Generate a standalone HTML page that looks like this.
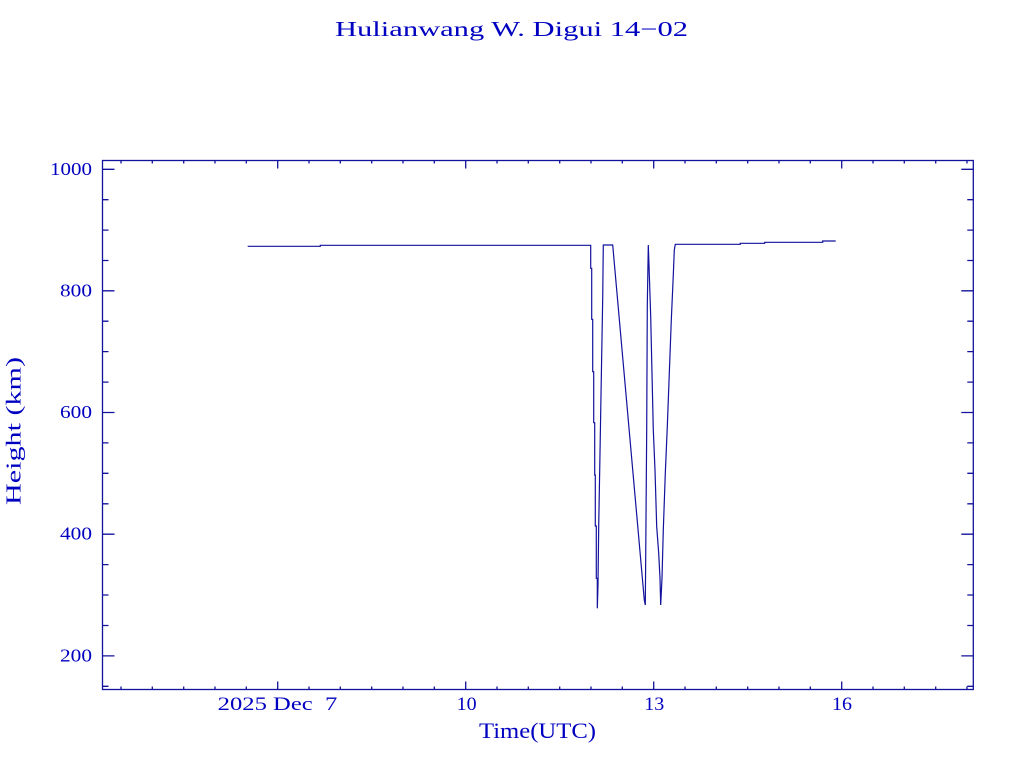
<!DOCTYPE html>
<html><head><meta charset="utf-8"><style>
html,body{margin:0;padding:0;background:#fff;}
svg{display:block;}
text{font-family:"Liberation Serif",serif;fill:#0000c0;}
</style></head><body>
<svg width="1024" height="768" viewBox="0 0 1024 768" xmlns="http://www.w3.org/2000/svg">
<rect x="0" y="0" width="1024" height="768" fill="#fff"/>
<text x="335" y="36" font-size="21" textLength="353" lengthAdjust="spacingAndGlyphs">Hulianwang W. Digui 14−02</text>
<g stroke="#12129c" stroke-width="1.3" fill="none">
<rect x="102.5" y="160.5" width="870.8" height="529"/>
<path d="M102.5 169.3h12M973.3 169.3h-12 M102.5 290.8h12M973.3 290.8h-12 M102.5 412.5h12M973.3 412.5h-12 M102.5 534.2h12M973.3 534.2h-12 M102.5 655.9h12M973.3 655.9h-12"/>
<path d="M102.5 199.7h6M973.3 199.7h-6 M102.5 230.1h6M973.3 230.1h-6 M102.5 260.5h6M973.3 260.5h-6 M102.5 321.2h6M973.3 321.2h-6 M102.5 351.6h6M973.3 351.6h-6 M102.5 382.1h6M973.3 382.1h-6 M102.5 442.9h6M973.3 442.9h-6 M102.5 473.3h6M973.3 473.3h-6 M102.5 503.8h6M973.3 503.8h-6 M102.5 564.6h6M973.3 564.6h-6 M102.5 595h6M973.3 595h-6 M102.5 625.5h6M973.3 625.5h-6 M102.5 686.3h6M973.3 686.3h-6"/>
<path d="M277.7 689.5v-8M277.7 160.5v8 M465.7 689.5v-8M465.7 160.5v8 M653.7 689.5v-8M653.7 160.5v8 M841.7 689.5v-8M841.7 160.5v8"/>
<path d="M121 689.5v-3M121 160.5v3 M152.3 689.5v-3M152.3 160.5v3 M183.7 689.5v-3M183.7 160.5v3 M215 689.5v-3M215 160.5v3 M246.3 689.5v-3M246.3 160.5v3 M309 689.5v-3M309 160.5v3 M340.3 689.5v-3M340.3 160.5v3 M371.7 689.5v-3M371.7 160.5v3 M403 689.5v-3M403 160.5v3 M434.3 689.5v-3M434.3 160.5v3 M497 689.5v-3M497 160.5v3 M528.3 689.5v-3M528.3 160.5v3 M559.7 689.5v-3M559.7 160.5v3 M591 689.5v-3M591 160.5v3 M622.3 689.5v-3M622.3 160.5v3 M685 689.5v-3M685 160.5v3 M716.3 689.5v-3M716.3 160.5v3 M747.7 689.5v-3M747.7 160.5v3 M779 689.5v-3M779 160.5v3 M810.3 689.5v-3M810.3 160.5v3 M873 689.5v-3M873 160.5v3 M904.3 689.5v-3M904.3 160.5v3 M935.7 689.5v-3M935.7 160.5v3 M967 689.5v-3M967 160.5v3"/>
<polyline stroke-width="1.2" points="247.7,246.3 320.3,246.3 320.3,245.3 590.7,245.3 590.7,268.3 591.7,268.3 591.7,319.3 592.7,319.3 592.7,371.7 593.7,371.7 593.7,422.7 594.7,422.7 594.7,475 595.3,475 595.3,526 596.3,526 596.3,578.3 597.3,578.3 597.3,608.3 598,585 598.7,526.7 599.7,470 600.7,412.7 601.7,355 602.7,298.3 603.3,245 612.7,245 644.3,600 645.3,605 645.7,556.7 646.7,430 647.3,305 648.3,245 649,265 650.7,316.7 652,373.3 653.3,430 655,470 656.7,526.7 658.7,553.3 660,578.3 660.7,605 662,578.3 663.3,530 665.3,473.3 667.3,426.7 669.3,373.3 671.3,320 673.3,275 674.3,250 675.3,244.3 740.3,244.3 740.3,243.3 764.7,243.3 764.7,242.3 822.7,242.3 822.7,241 835.7,241"/>
</g>
<g font-size="18" text-anchor="end">
<text x="92" y="174.8" textLength="42" lengthAdjust="spacingAndGlyphs">1000</text>
<text x="92" y="296.3" textLength="32" lengthAdjust="spacingAndGlyphs">800</text>
<text x="92" y="418" textLength="32" lengthAdjust="spacingAndGlyphs">600</text>
<text x="92" y="539.7" textLength="32" lengthAdjust="spacingAndGlyphs">400</text>
<text x="92" y="661.4" textLength="32" lengthAdjust="spacingAndGlyphs">200</text>
</g>
<g font-size="19">
<text x="217.7" y="710" textLength="119.6" lengthAdjust="spacingAndGlyphs" xml:space="preserve">2025 Dec  7</text>
<text x="456.7" y="710" textLength="20" lengthAdjust="spacingAndGlyphs">10</text>
<text x="644.3" y="710" textLength="20" lengthAdjust="spacingAndGlyphs">13</text>
<text x="832" y="710" textLength="20" lengthAdjust="spacingAndGlyphs">16</text>
</g>
<text x="479" y="738" font-size="22" textLength="117" lengthAdjust="spacingAndGlyphs">Time(UTC)</text>
<text transform="translate(20.5,505) rotate(-90)" x="0" y="0" font-size="21" textLength="148" lengthAdjust="spacingAndGlyphs">Height (km)</text>
</svg>
</body></html>
